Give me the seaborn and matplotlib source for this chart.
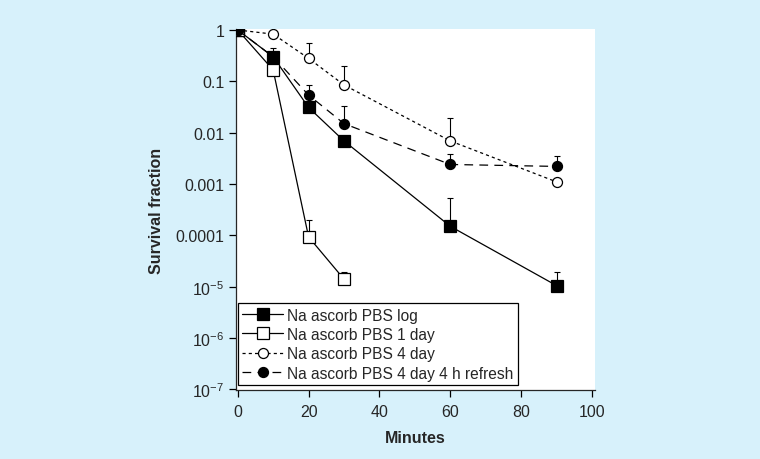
import numpy as np
import seaborn as sns
import matplotlib.pyplot as plt
from matplotlib.ticker import FixedLocator, NullLocator

# data
minutes = [0, 10, 20, 30, 60, 90]
minutes_1day = [0, 10, 20, 30]

log_vals = [1.0, 0.3, 0.031, 0.0069, 0.00015, 0.0000105]
log_upper = [1.0, 0.45, 0.031, 0.0069, 0.00053, 0.000019]

day1_vals = [1.0, 0.166, 0.000093, 0.000014]
day1_upper = [1.0, 0.166, 0.0002, 0.000019]

day4_vals = [1.0, 0.83, 0.28, 0.085, 0.0069, 0.0011]
day4_upper = [1.0, 0.83, 0.56, 0.2, 0.019, 0.0011]

refresh_vals = [1.0, 0.3, 0.054, 0.015, 0.0024, 0.0022]
refresh_upper = [1.0, 0.3, 0.085, 0.033, 0.0038, 0.0035]

y_ticks = [1e-7, 1e-6, 1e-5, 1e-4, 1e-3, 1e-2, 1e-1, 1]
y_labels = ["10$^{-7}$", "10$^{-6}$", "10$^{-5}$", "0.0001", "0.001", "0.01", "0.1", "1"]
x_ticks = [0, 20, 40, 60, 80, 100]

bg = "#d7f1fb"
fs = 11.5

sns.set_style("ticks")
plt.rcParams["font.family"] = ["Liberation Sans", "DejaVu Sans"]
plt.rcParams["mathtext.fontset"] = "custom"
plt.rcParams["mathtext.rm"] = "Liberation Sans"
plt.rcParams["mathtext.it"] = "Liberation Sans"

fig = plt.figure(figsize=(7.6, 4.6), dpi=100)
fig.patch.set_facecolor(bg)
ax = fig.add_axes([0.3105, 0.15, 0.473, 0.785])
ax.set_facecolor("white")

series = [
    ("Na ascorb PBS log", minutes, log_vals, log_upper, "s", "black", "-", 8.5),
    ("Na ascorb PBS 1 day", minutes_1day, day1_vals, day1_upper, "s", "white", "-", 8.5),
    ("Na ascorb PBS 4 day", minutes, day4_vals, day4_upper, "o", "white", (0, (2.5, 2.5)), 7.2),
    ("Na ascorb PBS 4 day 4 h refresh", minutes, refresh_vals, refresh_upper, "o", "black", (0, (7, 5)), 7.2),
]

for label, x, y, up, mk, face, ls, ms in series:
    y = np.array(y)
    err = np.array(up) - y
    ax.errorbar(x, y, yerr=[np.zeros_like(y), err], fmt="none", ecolor="black",
                elinewidth=0.8, capsize=2, capthick=0.8, zorder=2)
    sns.lineplot(x=x, y=y, ax=ax, color="black", linewidth=0.9, linestyle=ls,
                 marker=mk, markersize=ms, markerfacecolor=face,
                 markeredgecolor="black", markeredgewidth=0.9, label=label, zorder=3)

ax.set_yscale("log")
ax.set_xlim(-0.5, 101)
ax.set_ylim(0.97e-7, 1.05)
ax.yaxis.set_major_locator(FixedLocator(y_ticks))
ax.yaxis.set_minor_locator(NullLocator())
ax.set_yticklabels(y_labels)
ax.set_xticks(x_ticks)

for s in ["top", "right"]:
    ax.spines[s].set_visible(False)
for s in ["left", "bottom"]:
    ax.spines[s].set_linewidth(0.9)
ax.tick_params(axis="both", labelsize=fs, width=0.9, length=5, color="black")
ax.tick_params(axis="x", pad=5)

ax.set_xlabel("Minutes", fontsize=fs, fontweight="bold", labelpad=8)
ax.set_ylabel("Survival fraction", fontsize=fs, fontweight="bold", labelpad=8)

leg = ax.legend(loc="lower left", bbox_to_anchor=(0.005, 0.013), fontsize=11.2,
                frameon=True, fancybox=False, edgecolor="black", framealpha=1,
                handlelength=2.6, handletextpad=0.25, borderpad=0.3, labelspacing=0.28,
                borderaxespad=0)
leg.get_frame().set_linewidth(0.9)

plt.savefig("out.png", dpi=100, facecolor=bg)
